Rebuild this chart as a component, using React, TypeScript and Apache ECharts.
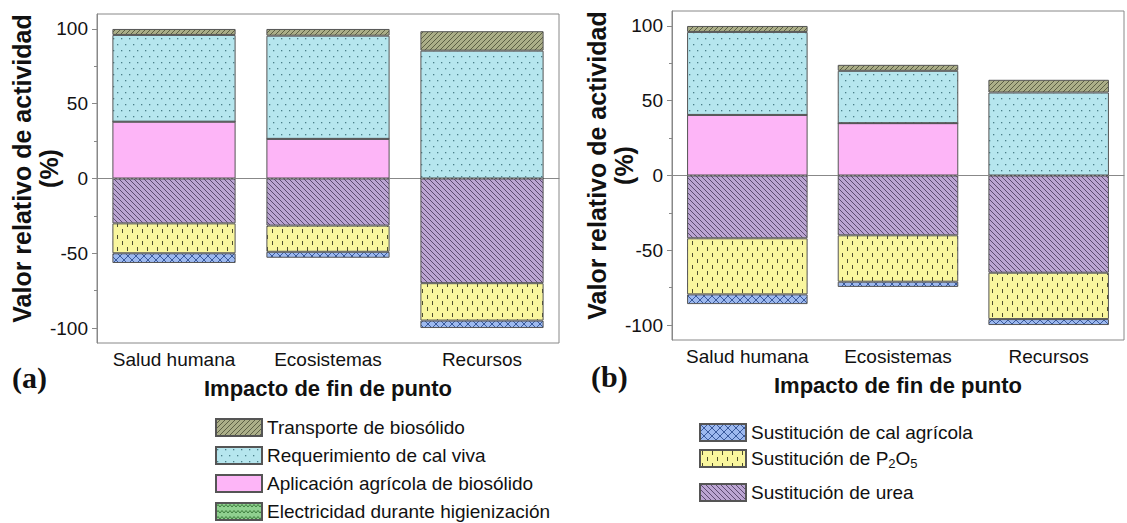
import React, { useEffect, useRef } from "react";
import * as echarts from "echarts";

const categories = ["Salud humana", "Ecosistemas", "Recursos"];
const seriesNames = [
  "Transporte de biosólido",
  "Requerimiento de cal viva",
  "Aplicación agrícola de biosólido",
  "Electricidad durante higienización",
  "Sustitución de cal agrícola",
  "Sustitución de P2O5",
  "Sustitución de urea",
];

// Chart (a)
const aTransporte = [4, 4.5, 13];
const aCalViva = [58, 69, 85.5];
const aAplicacion = [38, 26.5, 0];
const aElectricidad = [0, 0, 0];
const aCalAgricola = [-6.5, -4, -5];
const aP2O5 = [-20, -17.5, -25];
const aUrea = [-30, -31.5, -70];

// Chart (b)
const bTransporte = [4, 4, 8.5];
const bCalViva = [55.5, 35, 55.5];
const bAplicacion = [40.5, 35, 0];
const bElectricidad = [0, 0, 0];
const bCalAgricola = [-6.5, -3.5, -4];
const bP2O5 = [-37.5, -31, -31];
const bUrea = [-42, -40, -65];

const majorTicks = [-100, -50, 0, 50, 100];
const minorTicks = [-75, -25, 25, 75];

const FONT = "'Liberation Sans', Arial, sans-serif";

function makePattern(w: number, h: number, bg: string, draw?: (ctx: CanvasRenderingContext2D) => void) {
  const c = document.createElement("canvas");
  c.width = w;
  c.height = h;
  const ctx = c.getContext("2d")!;
  ctx.fillStyle = bg;
  ctx.fillRect(0, 0, w, h);
  if (draw) draw(ctx);
  return { image: c, repeat: "repeat", imageWidth: w, imageHeight: h } as any;
}

export default function App() {
  const ref = useRef<HTMLDivElement>(null);
  useEffect(() => {
    const chart = echarts.init(ref.current!, null, { renderer: "svg" });

    const pTransporte = makePattern(5, 5, "#abae88", (ctx) => {
      ctx.strokeStyle = "#5c5f45";
      ctx.lineWidth = 1;
      ctx.beginPath();
      ctx.moveTo(0, 5); ctx.lineTo(5, 0);
      ctx.moveTo(-1, 1); ctx.lineTo(1, -1);
      ctx.moveTo(4, 6); ctx.lineTo(6, 4);
      ctx.stroke();
    });
    const pCalViva = makePattern(8, 12, "#b6e6ee", (ctx) => {
      ctx.fillStyle = "#4a7f88";
      ctx.fillRect(1, 2, 1.3, 1.3);
      ctx.fillRect(5, 8, 1.3, 1.3);
    });
    const pAplicacion = "#fdb5f7";
    const pElectricidad = makePattern(8, 6, "#8fd08f", (ctx) => {
      ctx.strokeStyle = "#3d7d3d";
      ctx.lineWidth = 1;
      ctx.beginPath();
      ctx.moveTo(0, 4); ctx.lineTo(2, 1.5); ctx.lineTo(4, 4); ctx.lineTo(6, 1.5); ctx.lineTo(8, 4);
      ctx.stroke();
    });
    const pCalAgricola = makePattern(8, 8, "#9db9ef", (ctx) => {
      ctx.strokeStyle = "#3a5a9c";
      ctx.lineWidth = 1;
      ctx.beginPath();
      ctx.moveTo(0, 0); ctx.lineTo(8, 8);
      ctx.moveTo(0, 8); ctx.lineTo(8, 0);
      ctx.stroke();
    });
    const pP2O5 = makePattern(10, 12, "#f9f69e", (ctx) => {
      ctx.fillStyle = "#4e4e30";
      ctx.fillRect(2, 1, 1, 4);
      ctx.fillRect(7, 7, 1, 4);
    });
    const pUrea = makePattern(5, 5, "#bba5d2", (ctx) => {
      ctx.strokeStyle = "#5b4a70";
      ctx.lineWidth = 1;
      ctx.beginPath();
      ctx.moveTo(0, 0); ctx.lineTo(5, 5);
      ctx.moveTo(4, -1); ctx.lineTo(6, 1);
      ctx.moveTo(-1, 4); ctx.lineTo(1, 6);
      ctx.stroke();
    });

    const colors: Record<string, any> = {
      [seriesNames[0]]: pTransporte,
      [seriesNames[1]]: pCalViva,
      [seriesNames[2]]: pAplicacion,
      [seriesNames[3]]: pElectricidad,
      [seriesNames[4]]: pCalAgricola,
      [seriesNames[5]]: pP2O5,
      [seriesNames[6]]: pUrea,
    };

    const makeSeries = (gi: number, d: {
      transporte: number[]; calViva: number[]; aplicacion: number[]; electricidad: number[];
      calAgricola: number[]; p2o5: number[]; urea: number[];
    }) => {
      const order: [string, number[]][] = [
        [seriesNames[2], d.aplicacion],
        [seriesNames[3], d.electricidad],
        [seriesNames[1], d.calViva],
        [seriesNames[0], d.transporte],
        [seriesNames[6], d.urea],
        [seriesNames[5], d.p2o5],
        [seriesNames[4], d.calAgricola],
      ];
      return order.map(([name, data], i) => {
        const s: any = {
          type: "bar",
          name,
          data,
          stack: "s" + gi,
          xAxisIndex: gi * 2,
          yAxisIndex: gi * 2,
          barWidth: "80%",
          itemStyle: { color: colors[name], borderColor: "#555", borderWidth: 1 },
          emphasis: { disabled: true },
        };
        if (i === 0) {
          s.markLine = {
            silent: true,
            symbol: "none",
            label: { show: false },
            lineStyle: { type: [2, 2], color: "#888", width: 1 },
            data: [{ yAxis: 0 }],
          };
        }
        return s;
      });
    };

    const xAxes = (gi: number) => [
      {
        gridIndex: gi,
        type: "category",
        data: categories,
        boundaryGap: true,
        axisLine: { lineStyle: { color: "#888", width: 1 } },
        axisTick: { alignWithLabel: true, length: 5, lineStyle: { color: "#888" } },
        axisLabel: { interval: 0, fontSize: 19, color: "#111", margin: 7, fontFamily: FONT },
        name: "Impacto de fin de punto",
        nameLocation: "middle",
        nameGap: 34,
        nameMoveOverlap: false,
        nameTextStyle: { fontSize: 22, fontWeight: "bold", color: "#111", fontFamily: FONT },
      },
      {
        gridIndex: gi,
        type: "category",
        data: categories,
        position: "bottom",
        boundaryGap: true,
        axisLine: { show: false },
        axisLabel: { show: false },
        axisTick: { length: 3, lineStyle: { color: "#888" } },
      },
    ];

    const yAxes = (gi: number) => [
      {
        gridIndex: gi,
        type: "value",
        min: -110,
        max: 110,
        axisLine: { show: true, lineStyle: { color: "#888", width: 1 } },
        axisTick: { show: true, length: 5, customValues: majorTicks, lineStyle: { color: "#888" } },
        axisLabel: { customValues: majorTicks, fontSize: 19, color: "#111", margin: 9, fontFamily: FONT },
        splitLine: { show: false },
        name: "Valor relativo de actividad\n(%)",
        nameLocation: "middle",
        nameGap: 35,
        nameMoveOverlap: false,
        nameTextStyle: {
          fontSize: 25, fontWeight: "bold", color: "#111", lineHeight: 27, fontFamily: FONT,
          padding: [0, 0, 0, 20],
        },
      },
      {
        gridIndex: gi,
        type: "value",
        min: -110,
        max: 110,
        position: "left",
        axisLine: { show: false },
        axisTick: { show: true, length: 3, customValues: minorTicks, lineStyle: { color: "#888" } },
        axisLabel: { show: false },
        splitLine: { show: false },
      },
    ];

    const legendBase = {
      orient: "vertical",
      padding: 0,
      itemWidth: 46,
      itemHeight: 17,
      itemGap: 9,
      icon: "rect",
      selectedMode: false,
      height: 120,
      textStyle: { fontSize: 19, color: "#111", lineHeight: 17, fontFamily: FONT },
    };

    const option: any = {
      animation: false,
      backgroundColor: "#fff",
      textStyle: { fontFamily: FONT },
      grid: [
        { left: 97, top: 14, width: 462, height: 329, show: true, borderColor: "#888", borderWidth: 1, backgroundColor: "transparent" },
        { left: 672, top: 11, width: 452, height: 329, show: true, borderColor: "#888", borderWidth: 1, backgroundColor: "transparent" },
      ],
      xAxis: [...xAxes(0), ...xAxes(1)],
      yAxis: [...yAxes(0), ...yAxes(1)],
      legend: [
        { ...legendBase, left: 215, top: 418, data: seriesNames.slice(0, 4) },
        {
          ...legendBase,
          left: 699,
          top: 423,
          itemGap: 5,
          data: seriesNames.slice(4, 6),
          formatter: (name: string) =>
            name === "Sustitución de P2O5" ? "{n|Sustitución de P}{s|2}{n|O}{s|5}" : name,
          textStyle: {
            fontSize: 19,
            color: "#111",
            lineHeight: 17,
            fontFamily: FONT,
            rich: {
              n: { fontSize: 19, lineHeight: 17, color: "#111", fontFamily: FONT },
              s: { fontSize: 13, lineHeight: 7, padding: [10, 0, 0, 0], color: "#111", fontFamily: FONT },
            },
          },
        },
        { ...legendBase, left: 699, top: 483, data: seriesNames.slice(6) },
      ],
      graphic: [
        { type: "text", x: 12, y: 377, style: { text: "(a)", font: "bold 30px 'Liberation Serif', serif", fill: "#111", verticalAlign: "middle", align: "left" } },
        { type: "text", x: 591, y: 376, style: { text: "(b)", font: "bold 30px 'Liberation Serif', serif", fill: "#111", verticalAlign: "middle", align: "left" } },
      ],
      series: [
        ...makeSeries(0, {
          transporte: aTransporte, calViva: aCalViva, aplicacion: aAplicacion, electricidad: aElectricidad,
          calAgricola: aCalAgricola, p2o5: aP2O5, urea: aUrea,
        }),
        ...makeSeries(1, {
          transporte: bTransporte, calViva: bCalViva, aplicacion: bAplicacion, electricidad: bElectricidad,
          calAgricola: bCalAgricola, p2o5: bP2O5, urea: bUrea,
        }),
      ],
    };
    chart.setOption(option);
    return () => chart.dispose();
  }, []);
  return (
    <div
      ref={ref}
      style={{ position: "fixed", left: 0, top: 0, width: 1127, height: 523, background: "#fff" }}
    />
  );
}
